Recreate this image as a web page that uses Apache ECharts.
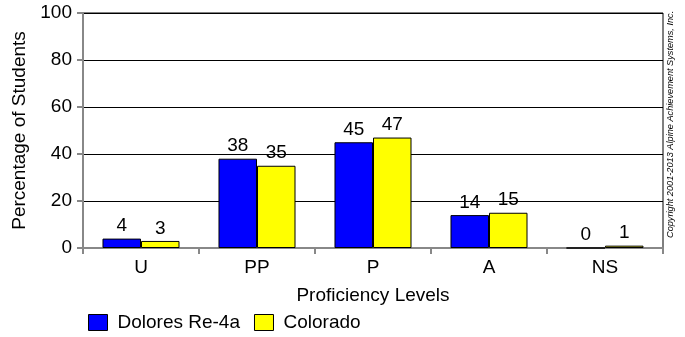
<!DOCTYPE html>
<html><head><meta charset="utf-8">
<script src="https://cdn.jsdelivr.net/npm/echarts@6/dist/echarts.min.js"></script>
<style>html,body{margin:0;padding:0;background:#fff}#c{width:685px;height:337px}</style>
</head><body><div id="c"></div>
<script>
const categories = ['U', 'PP', 'P', 'A', 'NS'];
const doloresValues = [4, 38, 45, 14, 0];
const coloradoValues = [3, 35, 47, 15, 1];
const yTicks = [0, 20, 40, 60, 80, 100];
const seriesNames = ['Dolores Re-4a', 'Colorado'];

const chart = echarts.init(document.getElementById('c'));
const font = 'Liberation Sans, Arial, sans-serif';
const fs = 19;
const lbl = {show: true, position: 'top', color: '#000', fontSize: fs, fontFamily: font, distance: 3};
chart.setOption({
  animation: false,
  grid: {left: 83, right: 22, top: 13, bottom: 89, show: true, borderColor: '#000', borderWidth: 1, backgroundColor: '#fff'},
  legend: {
    left: 83, top: 308, itemWidth: 19, itemHeight: 16, itemGap: 14, icon: 'rect',
    textStyle: {fontSize: fs, fontFamily: font, color: '#000', padding: [0, 0, 0, 5]},
    data: seriesNames.map(n => ({name: n, itemStyle: {borderColor: '#000', borderWidth: 1}}))
  },
  xAxis: {
    type: 'category', data: categories,
    name: 'Proficiency Levels', nameLocation: 'middle', nameGap: 38,
    nameTextStyle: {fontSize: fs, fontFamily: font, color: '#000'},
    axisLine: {lineStyle: {color: '#888', width: 2}},
    axisTick: {show: true, length: 6, lineStyle: {color: '#888', width: 2}},
    axisLabel: {fontSize: fs, fontFamily: font, color: '#000', margin: 10}
  },
  yAxis: {
    type: 'value', min: 0, max: 100, interval: 20,
    name: 'Percentage of Students', nameLocation: 'middle', nameGap: 50,
    nameTextStyle: {fontSize: fs, fontFamily: font, color: '#000'},
    axisLine: {show: true, lineStyle: {color: '#888', width: 2}},
    axisTick: {show: true, length: 6, lineStyle: {color: '#888', width: 2}},
    axisLabel: {fontSize: fs, fontFamily: font, color: '#000', margin: 11,
      formatter: v => yTicks.includes(v) ? String(v) : ''},
    splitLine: {lineStyle: {color: '#000', width: 1}}
  },
  series: [
    {name: seriesNames[0], type: 'bar', data: doloresValues, barGap: '0%', barCategoryGap: '33.6%',
      itemStyle: {color: '#0000ff', borderColor: '#000', borderWidth: 1}, label: lbl},
    {name: seriesNames[1], type: 'bar', data: coloradoValues,
      itemStyle: {color: '#ffff00', borderColor: '#000', borderWidth: 1}, label: lbl}
  ],
  graphic: [{
    type: 'text', x: 670, y: 238, rotation: Math.PI / 2,
    style: {text: 'Copyright 2001-2013 Alpine Achievement Systems, Inc.', font: 'italic 9.2px ' + font,
      fill: '#000', textAlign: 'left', textVerticalAlign: 'middle'}
  }]
});
</script></body></html>
